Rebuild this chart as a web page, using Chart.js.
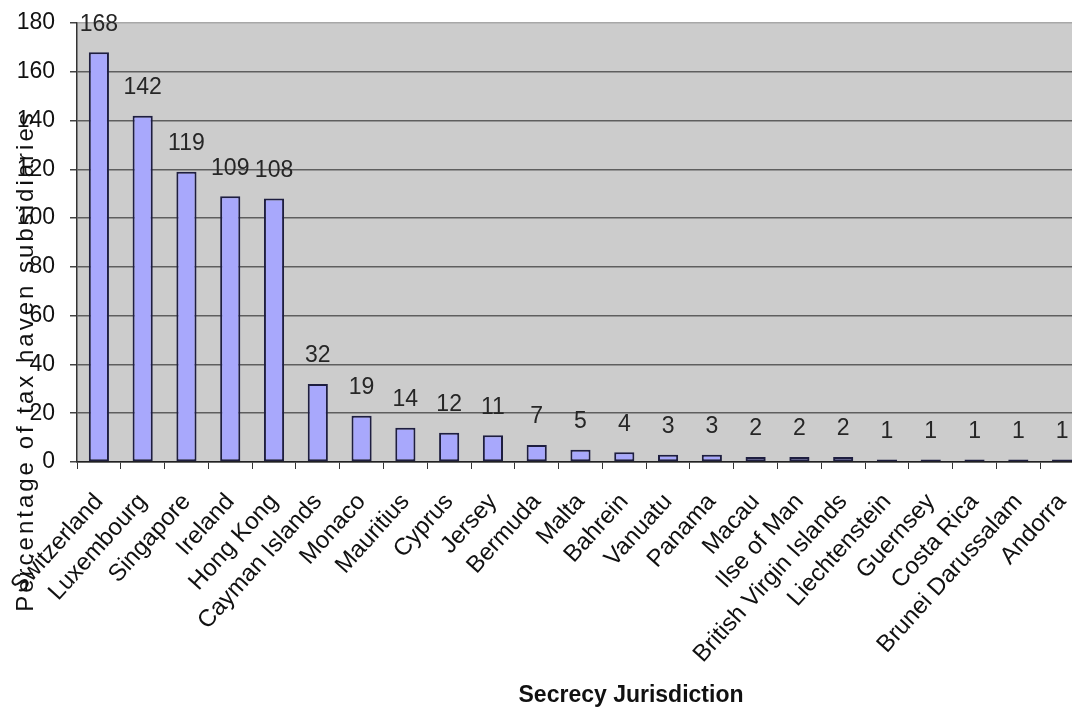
<!DOCTYPE html>
<html lang="en">
<head>
  <meta charset="UTF-8" />
  <title>Secrecy Jurisdiction</title>
  <script src="https://cdn.jsdelivr.net/npm/chart.js"></script>
  <style>
    body { margin: 0; background: #fff; overflow: hidden; }
    #wrap { width: 1084px; height: 709px; }
  </style>
</head>
<body>
  <div id="wrap"><canvas id="havenChart"></canvas></div>

  <script>
    const jurisdictions = [
      'Switzerland', 'Luxembourg', 'Singapore', 'Ireland', 'Hong Kong',
      'Cayman Islands', 'Monaco', 'Mauritius', 'Cyprus', 'Jersey', 'Bermuda',
      'Malta', 'Bahrein', 'Vanuatu', 'Panama', 'Macau', 'Ilse of Man',
      'British Virgin Islands', 'Liechtenstein', 'Guernsey', 'Costa Rica',
      'Brunei Darussalam', 'Andorra'
    ];
    const subsidiaries = [168, 142, 119, 109, 108, 32, 19, 14, 12, 11, 7, 5, 4, 3, 3, 2, 2, 2, 1, 1, 1, 1, 1];
    const yTicks = [0, 20, 40, 60, 80, 100, 120, 140, 160, 180];

    const yTitle = 'Percentage of tax haven subsidiaries';
    const xTitle = 'Secrecy Jurisdiction';
    const FONT = "'Liberation Sans', Arial, sans-serif";

    // grey plot area behind the bars
    const plotBackground = {
      id: 'plotBackground',
      beforeDraw(chart) {
        const { ctx, chartArea: a } = chart;
        ctx.save();
        ctx.fillStyle = '#cccccc';
        ctx.fillRect(a.left, a.top, a.right - a.left, a.bottom - a.top);
        ctx.restore();
      }
    };

    // value printed above each bar
    const valueLabels = {
      id: 'valueLabels',
      afterDatasetsDraw(chart) {
        const ctx = chart.ctx;
        const meta = chart.getDatasetMeta(0);
        ctx.save();
        ctx.font = '23px ' + FONT;
        ctx.fillStyle = '#262626';
        ctx.textAlign = 'center';
        ctx.textBaseline = 'middle';
        meta.data.forEach((bar, i) => {
          ctx.fillText(String(subsidiaries[i]), bar.x, bar.y - 28);
        });
        ctx.restore();
      }
    };

    // axis titles, placed by hand like the spreadsheet did
    const axisTitles = {
      id: 'axisTitles',
      afterDraw(chart) {
        const ctx = chart.ctx;
        ctx.save();
        ctx.fillStyle = '#111';
        ctx.textAlign = 'center';
        ctx.textBaseline = 'alphabetic';

        ctx.font = 'bold 23px ' + FONT;
        ctx.fillText(xTitle, 631, 702);

        ctx.translate(33, 361);
        ctx.rotate(-Math.PI / 2);
        ctx.font = '24px ' + FONT;
        ctx.letterSpacing = '3px';
        ctx.fillText(yTitle, 0, 0);
        ctx.restore();
      }
    };

    const ctx = document.getElementById('havenChart').getContext('2d');
    new Chart(ctx, {
      type: 'bar',
      data: {
        labels: jurisdictions,
        datasets: [{
          data: subsidiaries,
          backgroundColor: '#a8a8fc',
          borderColor: '#1e1e40',
          borderWidth: 2,
          borderSkipped: false,
          barPercentage: 0.46,
          categoryPercentage: 1
        }]
      },
      options: {
        responsive: true,
        maintainAspectRatio: false,
        animation: false,
        layout: { padding: { top: 23, right: 0, left: 0, bottom: 0 } },
        plugins: {
          legend: { display: false },
          tooltip: { enabled: false }
        },
        scales: {
          x: {
            grid: { drawOnChartArea: false, color: '#333', tickLength: 7 },
            border: { color: '#222', width: 1.5 },
            ticks: {
              color: '#111',
              font: { family: FONT, size: 24 },
              minRotation: 48,
              maxRotation: 48,
              autoSkip: false,
              padding: 19
            },
            afterFit(scale) {
              scale.height = 709 - 462;
              scale.paddingLeft = 0;
              scale.paddingRight = 0;
            }
          },
          y: {
            min: 0,
            max: 180,
            afterBuildTicks(scale) {
              scale.ticks = yTicks.map(v => ({ value: v }));
            },
            grid: {
              color: c => (c.tick && c.tick.value === 180 ? '#a8a8a8' : '#5e5e5e'),
              lineWidth: 1.5,
              tickColor: '#444',
              tickLength: 7
            },
            border: { color: '#333', width: 1.5 },
            ticks: {
              color: '#111',
              font: { family: FONT, size: 23 },
              padding: 15
            },
            afterFit(scale) {
              scale.width = 77;
              scale.paddingTop = 0;
              scale.paddingBottom = 0;
            }
          }
        }
      },
      plugins: [plotBackground, valueLabels, axisTitles]
    });
  </script>
</body>
</html>
